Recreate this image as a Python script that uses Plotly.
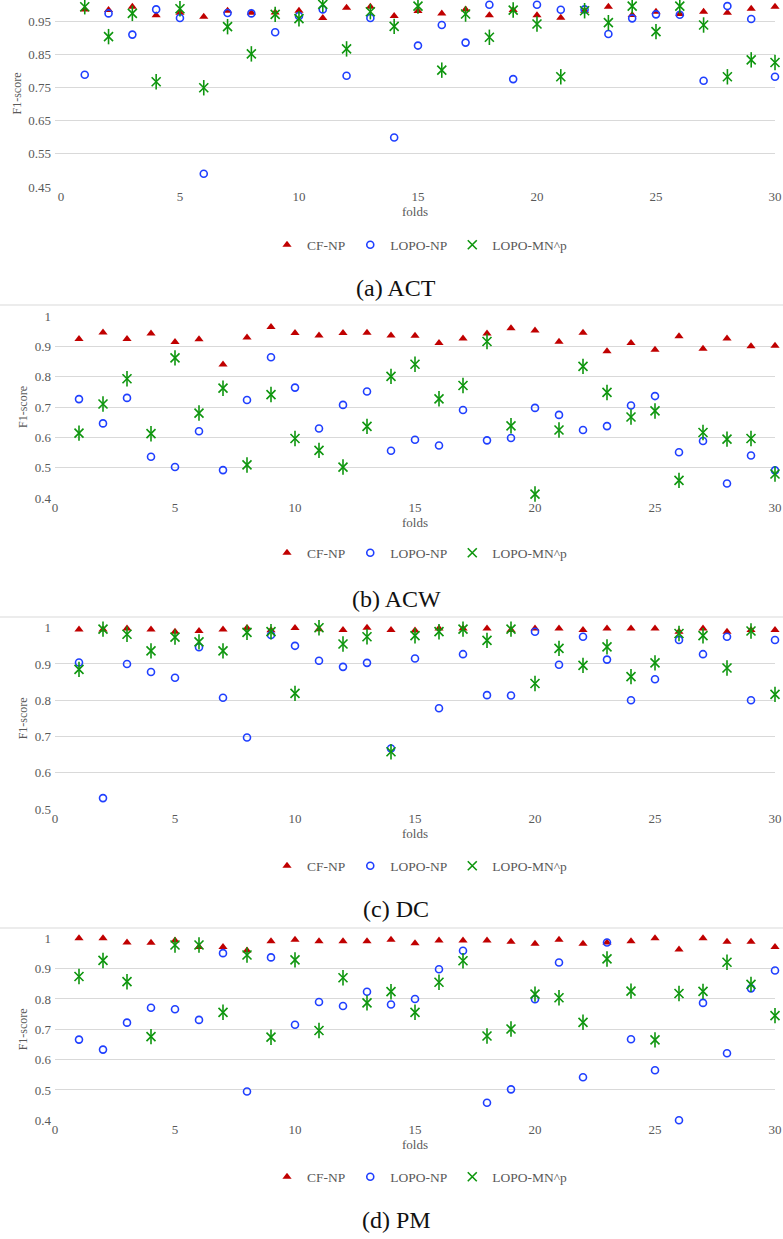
import plotly.graph_objects as go

# ---------------- data ----------------
folds = list(range(1, 31))

cf_act = [0.985, 0.983, 0.993, 0.967, 0.975, 0.963, 0.981, 0.975, 0.976, 0.981,
          0.959, 0.990, 0.993, 0.965, 0.980, 0.973, 0.985, 0.967, 0.983, 0.967,
          0.960, 0.981, 0.993, 0.968, 0.978, 0.971, 0.978, 0.975, 0.987, 0.993]
lopo_act = [0.788, 0.973, 0.909, 0.985, 0.959, 0.490, 0.974, 0.973, 0.916, 0.965,
            0.985, 0.785, 0.959, 0.599, 0.876, 0.938, 0.885, 0.999, 0.775, 0.999,
            0.984, 0.985, 0.911, 0.958, 0.970, 0.969, 0.770, 0.995, 0.956, 0.782]
mn_act = [0.993, 0.903, 0.973, 0.767, 0.987, 0.749, 0.933, 0.851, 0.970, 0.957,
          1.000, 0.866, 0.978, 0.934, 0.995, 0.802, 0.971, 0.901, 0.983, 0.941,
          0.782, 0.981, 0.945, 0.995, 0.918, 0.995, 0.938, 0.782, 0.833, 0.825]

cf_acw = [0.924, 0.946, 0.924, 0.942, 0.914, 0.923, 0.840, 0.929, 0.964, 0.944,
          0.936, 0.944, 0.945, 0.936, 0.935, 0.911, 0.926, 0.942, 0.960, 0.952,
          0.915, 0.945, 0.884, 0.911, 0.889, 0.933, 0.892, 0.926, 0.900, 0.902]
lopo_acw = [0.726, 0.646, 0.730, 0.536, 0.502, 0.620, 0.492, 0.723, 0.864, 0.764,
            0.629, 0.707, 0.751, 0.556, 0.592, 0.573, 0.690, 0.590, 0.598, 0.697,
            0.674, 0.624, 0.637, 0.705, 0.736, 0.551, 0.588, 0.448, 0.540, 0.491]
mn_acw = [0.614, 0.710, 0.793, 0.612, 0.862, 0.680, 0.762, 0.509, 0.741, 0.596,
          0.557, 0.502, 0.636, 0.801, 0.841, 0.727, 0.771, 0.916, 0.638, 0.413,
          0.624, 0.834, 0.748, 0.667, 0.687, 0.458, 0.616, 0.594, 0.596, 0.479]

cf_dc = [0.995, 0.995, 0.998, 0.995, 0.989, 0.991, 0.995, 0.999, 0.993, 0.999,
         0.996, 0.994, 1.000, 0.994, 0.992, 0.998, 0.998, 0.998, 0.994, 0.998,
         0.998, 0.994, 0.998, 0.998, 0.998, 0.989, 0.998, 0.989, 0.994, 0.994]
lopo_dc = [0.904, 0.530, 0.900, 0.878, 0.862, 0.946, 0.807, 0.697, 0.980, 0.950,
           0.909, 0.892, 0.903, 0.667, 0.915, 0.778, 0.927, 0.814, 0.813, 0.989,
           0.898, 0.975, 0.912, 0.800, 0.858, 0.966, 0.927, 0.975, 0.800, 0.966]
mn_dc = [0.885, 0.996, 0.982, 0.936, 0.974, 0.961, 0.936, 0.987, 0.989, 0.819,
         1.000, 0.955, 0.975, 0.658, 0.978, 0.989, 0.996, 0.965, 0.996, 0.846,
         0.943, 0.896, 0.947, 0.865, 0.903, 0.984, 0.978, 0.889, 0.991, 0.816]

cf_pm = [1.000, 1.000, 0.986, 0.985, 0.993, 0.971, 0.971, 0.960, 0.990, 0.995,
         0.990, 0.990, 0.990, 0.995, 0.984, 0.993, 0.993, 0.993, 0.989, 0.982,
         0.995, 0.982, 0.986, 0.990, 1.000, 0.963, 1.000, 0.989, 0.989, 0.971]
lopo_pm = [0.666, 0.633, 0.722, 0.771, 0.766, 0.731, 0.951, 0.495, 0.937, 0.715,
           0.790, 0.777, 0.824, 0.782, 0.800, 0.898, 0.959, 0.458, 0.502, 0.799,
           0.920, 0.542, 0.986, 0.667, 0.565, 0.400, 0.787, 0.621, 0.835, 0.894]
mn_pm = [0.874, 0.927, 0.857, 0.676, 0.978, 0.978, 0.756, 0.945, 0.674, 0.929,
         0.696, 0.870, 0.787, 0.824, 0.756, 0.855, 0.926, 0.678, 0.701, 0.816,
         0.804, 0.723, 0.932, 0.826, 0.665, 0.818, 0.825, 0.921, 0.848, 0.745]

series_names = ["CF-NP", "LOPO-NP", "LOPO-MN^p"]
captions = ["(a) ACT", "(b) ACW", "(c) DC", "(d) PM"]

# ---------------- layout helpers ----------------
W, H = 783, 1239
def fx(p):
    return p / W
def fy(p):
    return 1 - p / H

RED = "#C00000"
BLUE = "#1F3FFF"
GREEN = "#0E960E"
GRID = "#D9D9D9"
TXT = "#595959"
SERIF = "Liberation Serif"

panels = [
    dict(cf=cf_act, lopo=lopo_act, mn=mn_act, xdom=(55, 775), ydom=(0, 187),
         yrange=[0.45, 1.0133], xrange=[-0.25, 30], tick0=0.45, leg_y=245, cap_y=288),
    dict(cf=cf_acw, lopo=lopo_acw, mn=mn_acw, xdom=(55, 775), ydom=(316, 498),
         yrange=[0.4, 1.0], xrange=[0, 30], tick0=0.4, leg_y=553, cap_y=599),
    dict(cf=cf_dc, lopo=lopo_dc, mn=mn_dc, xdom=(55, 775), ydom=(627.7, 809),
         yrange=[0.5, 1.0], xrange=[0, 30], tick0=0.5, leg_y=866, cap_y=909),
    dict(cf=cf_pm, lopo=lopo_pm, mn=mn_pm, xdom=(55, 775), ydom=(938.3, 1120.3),
         yrange=[0.4, 1.0], xrange=[0, 30], tick0=0.4, leg_y=1177, cap_y=1220),
]

fig = go.Figure()
layout = dict(
    width=W, height=H, margin=dict(l=0, r=0, t=0, b=0, autoexpand=False),
    paper_bgcolor="white", plot_bgcolor="white",
    font=dict(family=SERIF, color=TXT, size=13),
    annotations=[], shapes=[],
)

for i, p in enumerate(panels):
    n = i + 1
    xa = "x" if n == 1 else f"x{n}"
    ya = "y" if n == 1 else f"y{n}"
    leg = "legend" if n == 1 else f"legend{n}"

    fig.add_trace(go.Scatter(
        x=folds, y=p["cf"], mode="markers", name=series_names[0],
        xaxis=xa, yaxis=ya, legend=leg, cliponaxis=False,
        marker=dict(symbol="triangle-up", size=8, color=RED)))
    fig.add_trace(go.Scatter(
        x=folds, y=p["lopo"], mode="markers", name=series_names[1],
        xaxis=xa, yaxis=ya, legend=leg, cliponaxis=False,
        marker=dict(symbol="circle-open", size=7, color=BLUE,
                    line=dict(width=1.6, color=BLUE))))
    fig.add_trace(go.Scatter(
        x=folds, y=p["mn"], mode="markers", name=series_names[2],
        xaxis=xa, yaxis=ya, legend=leg, cliponaxis=False, legendgroup=f"mn{n}",
        marker=dict(symbol="x-thin-open", size=9, color=GREEN,
                    line=dict(width=1.6, color=GREEN))))
    fig.add_trace(go.Scatter(
        x=folds, y=p["mn"], mode="markers", name=series_names[2],
        xaxis=xa, yaxis=ya, legend=leg, cliponaxis=False, legendgroup=f"mn{n}",
        showlegend=False, hoverinfo="skip",
        marker=dict(symbol="line-ns-open", size=11, color=GREEN,
                    line=dict(width=1.6, color=GREEN))))

    xkey = "xaxis" if n == 1 else f"xaxis{n}"
    ykey = "yaxis" if n == 1 else f"yaxis{n}"
    layout[xkey] = dict(
        domain=[fx(p["xdom"][0]), fx(p["xdom"][1])], anchor=ya, automargin=False,
        range=p["xrange"], tick0=0, dtick=5, showgrid=False, zeroline=False,
        showline=False, ticks="", tickfont=dict(size=13, color=TXT, family=SERIF),
        title=dict(text="folds", font=dict(size=13, color=TXT, family=SERIF), standoff=2),
    )
    layout[ykey] = dict(
        domain=[fy(p["ydom"][1]), fy(p["ydom"][0])], anchor=xa, automargin=False,
        range=p["yrange"], tick0=p["tick0"], dtick=0.1, showgrid=True,
        gridcolor=GRID, gridwidth=1, zeroline=False, showline=False, ticks="",
        ticklabelstandoff=3,
        tickfont=dict(size=13, color=TXT, family=SERIF),
        title=dict(text="F1-score", font=dict(size=12, color=TXT, family=SERIF), standoff=4),
    )
    layout[leg] = dict(
        orientation="h", x=fx(267), xanchor="left", y=fy(p["leg_y"]), yanchor="middle",
        bgcolor="rgba(0,0,0,0)", font=dict(size=13.5, color=TXT, family=SERIF),
        itemclick=False, itemdoubleclick=False,
    )
    layout["annotations"].append(dict(
        text=captions[i], xref="paper", yref="paper", x=fx(396), y=fy(p["cap_y"]),
        xanchor="center", yanchor="middle", showarrow=False,
        font=dict(size=24, color="#111111", family=SERIF)))

# chart-area top borders of panels b, c, d
for yb in [305, 617, 928]:
    layout["shapes"].append(dict(
        type="line", xref="paper", yref="paper", x0=0, x1=1, y0=fy(yb), y1=fy(yb),
        line=dict(color=GRID, width=1)))

fig.update_layout(**layout)
fig.write_html(
    "out.html",
    config={"displayModeBar": False, "responsive": False},
    post_script="document.body.style.margin='0';document.body.style.overflow='hidden';",
)
